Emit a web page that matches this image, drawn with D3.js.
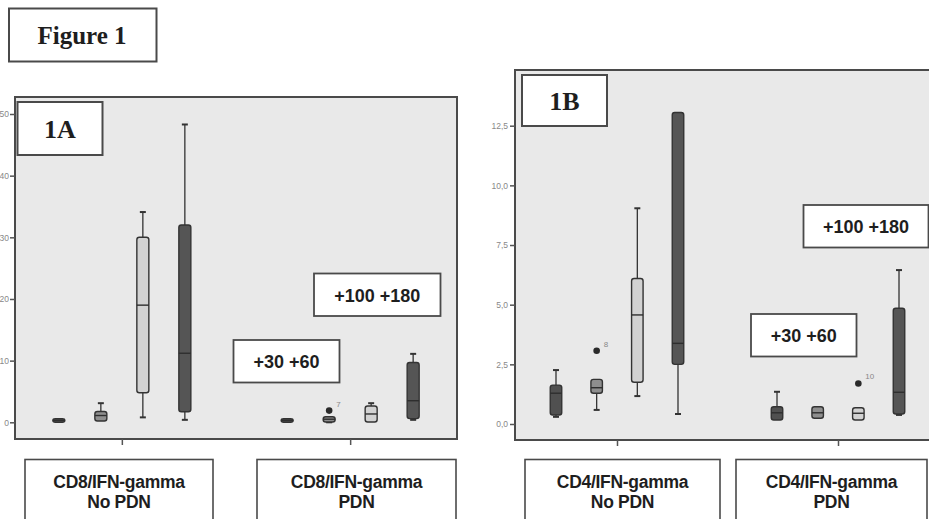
<!DOCTYPE html>
<html>
<head>
<meta charset="utf-8">
<script src="https://cdn.jsdelivr.net/npm/d3@7"></script>
<style>
  html, body { margin: 0; padding: 0; background: #ffffff; }
  svg { display: block; }
</style>
</head>
<body>
<svg id="chart" width="929" height="519"></svg>
<script>
// ---------------- DATA ----------------
const series = ["+30", "+60", "+100", "+180"];

// Panel 1A : CD8/IFN-gamma
const groupsA = ["CD8/IFN-gamma|No PDN", "CD8/IFN-gamma|PDN"];
// [min, q1, median, q3, max] per group, per series
const statsA_NoPDN = [
  [0.1, 0.1, 0.3, 0.5, 0.5],
  [0.2, 0.2, 1.1, 1.75, 3.1],
  [0.8, 4.8, 19.0, 30.0, 34.1],
  [0.4, 1.7, 11.2, 32.0, 48.3]
];
const statsA_PDN = [
  [0.1, 0.15, 0.3, 0.45, 0.5],
  [0.0, 0.05, 0.5, 0.9, 0.9],
  [0.05, 0.05, 1.35, 2.65, 3.1],
  [0.4, 0.6, 3.5, 9.7, 11.1]
];
const outliersA = [{ group: 1, series: 1, value: 1.9, label: "7" }];
const ticksA = [0, 10, 20, 30, 40, 50];
const tickLabelsA = ["0", "10", "20", "30", "40", "50"];

// Panel 1B : CD4/IFN-gamma
const groupsB = ["CD4/IFN-gamma|No PDN", "CD4/IFN-gamma|PDN"];
const statsB_NoPDN = [
  [0.3, 0.38, 1.29, 1.63, 2.26],
  [0.59, 1.29, 1.52, 1.87, 1.87],
  [1.17, 1.75, 4.57, 6.1, 9.04],
  [0.42, 2.5, 3.38, 13.05, 13.05]
];
const statsB_PDN = [
  [0.17, 0.17, 0.47, 0.72, 1.35],
  [0.24, 0.24, 0.47, 0.72, 0.72],
  [0.17, 0.17, 0.45, 0.68, 0.68],
  [0.38, 0.42, 1.33, 4.85, 6.45]
];
const outliersB = [
  { group: 0, series: 1, value: 3.07, label: "8" },
  { group: 1, series: 2, value: 1.7, label: "10" }
];
const ticksB = [0, 2.5, 5, 7.5, 10, 12.5];
const tickLabelsB = ["0,0", "2,5", "5,0", "7,5", "10,0", "12,5"];

const seriesColors = ["#505050", "#8e8e8e", "#d2d2d2", "#555555"];

// ---------------- DRAWING ----------------
const svg = d3.select("#chart");
const frameColor = "#4a4a4a";
const serif = "'Liberation Serif', 'Times New Roman', serif";
const sans = "'Liberation Sans', Arial, sans-serif";

function labelBox(x, y, w, h, lines, opts) {
  const g = svg.append("g");
  g.append("rect").attr("x", x).attr("y", y).attr("width", w).attr("height", h)
    .attr("fill", "#fff").attr("stroke", opts.stroke || frameColor)
    .attr("stroke-width", opts.sw || 2);
  lines.forEach((t, i) => {
    g.append("text").attr("x", opts.cx !== undefined ? opts.cx : x + w / 2)
      .attr("y", opts.baseline + i * (opts.lineH || 0))
      .attr("text-anchor", "middle")
      .attr("font-family", opts.font).attr("font-weight", "bold")
      .attr("font-size", opts.size).attr("fill", opts.fill || "#1e1e1e")
      .attr("letter-spacing", opts.ls || 0)
      .text(t);
  });
}

function panel(cfg) {
  const { left, top, right, bottom, yScale, groups, stats, outliers, ticks, tickLabels,
          groupRange, groupPad, innerHalf, boxW, tickPad } = cfg;
  svg.append("rect").attr("x", left).attr("y", top)
    .attr("width", right - left).attr("height", bottom - top)
    .attr("fill", "#e9e9e9").attr("stroke", frameColor).attr("stroke-width", 2);

  const gx = d3.scalePoint().domain(groups).range(groupRange).padding(groupPad);
  const sx = d3.scalePoint().domain(series).range([-innerHalf, innerHalf]);

  const yAxis = d3.axisLeft(yScale).tickValues(ticks)
    .tickFormat((d, i) => tickLabels[i]).tickSize(5).tickPadding(tickPad);
  const ya = svg.append("g").attr("transform", `translate(${left},0)`).call(yAxis);
  ya.select(".domain").remove();
  ya.selectAll("line").attr("stroke", "#555").attr("stroke-width", 1.5);
  ya.selectAll("text").attr("font-family", sans).attr("font-size", 8.5).attr("fill", "#888");

  const xAxis = d3.axisBottom(gx).tickSize(6).tickFormat("");
  const xa = svg.append("g").attr("transform", `translate(0,${bottom})`).call(xAxis);
  xa.select(".domain").remove();
  xa.selectAll("line").attr("stroke", "#555").attr("stroke-width", 1.5);

  groups.forEach((gName, gi) => {
    stats[gi].forEach((s, si) => {
      const [mn, q1, md, q3, mx] = s;
      const cx = gx(gName) + sx(series[si]);
      const g = svg.append("g");
      const capW = 6;
      if (mx > q3) {
        g.append("line").attr("x1", cx).attr("x2", cx).attr("y1", yScale(q3)).attr("y2", yScale(mx))
          .attr("stroke", "#333").attr("stroke-width", 1.3);
        g.append("line").attr("x1", cx - capW / 2).attr("x2", cx + capW / 2)
          .attr("y1", yScale(mx)).attr("y2", yScale(mx)).attr("stroke", "#333").attr("stroke-width", 2);
      }
      if (mn < q1) {
        g.append("line").attr("x1", cx).attr("x2", cx).attr("y1", yScale(q1)).attr("y2", yScale(mn))
          .attr("stroke", "#333").attr("stroke-width", 1.3);
        g.append("line").attr("x1", cx - capW / 2).attr("x2", cx + capW / 2)
          .attr("y1", yScale(mn)).attr("y2", yScale(mn)).attr("stroke", "#333").attr("stroke-width", 2);
      }
      const yTop = yScale(q3), yBot = yScale(q1);
      const h = Math.max(yBot - yTop, 3.5);
      g.append("rect").attr("x", cx - boxW / 2).attr("y", (yTop + yBot) / 2 - h / 2)
        .attr("width", boxW).attr("height", h).attr("rx", 2.5)
        .attr("fill", seriesColors[si]).attr("stroke", "#333").attr("stroke-width", 1.4);
      g.append("line").attr("x1", cx - boxW / 2).attr("x2", cx + boxW / 2)
        .attr("y1", yScale(md)).attr("y2", yScale(md))
        .attr("stroke", "#2e2e2e").attr("stroke-width", 1.4);
    });
  });

  outliers.forEach(o => {
    const cx = gx(groups[o.group]) + sx(series[o.series]);
    svg.append("circle").attr("cx", cx).attr("cy", yScale(o.value)).attr("r", 3.3).attr("fill", "#2a2a2a");
    svg.append("text").attr("x", cx + 7).attr("y", yScale(o.value) - 4)
      .attr("font-family", sans).attr("font-size", 8).attr("fill", "#888").text(o.label);
  });
  return gx;
}

const yA = d3.scaleLinear().domain([0, 50]).range([422.3, 114]);
panel({
  left: 15, top: 97, right: 457, bottom: 439, yScale: yA,
  groups: groupsA, stats: [statsA_NoPDN, statsA_PDN], outliers: outliersA,
  ticks: ticksA, tickLabels: tickLabelsA,
  groupRange: [15, 457], groupPad: 0.468, innerHalf: 63, boxW: 12, tickPad: 1
});

const yB = d3.scaleLinear().domain([0, 12.5]).range([424, 125.7]);
panel({
  left: 515, top: 70, right: 945, bottom: 440, yScale: yB,
  groups: groupsB, stats: [statsB_NoPDN, statsB_PDN], outliers: outliersB,
  ticks: ticksB, tickLabels: tickLabelsB,
  groupRange: [515, 940], groupPad: 0.4615, innerHalf: 61, boxW: 11.5, tickPad: 2
});

labelBox(9, 8.5, 147.5, 53, ["Figure 1"], { font: serif, size: 25, baseline: 44, cx: 82 });
labelBox(17.5, 102, 85, 53, ["1A"], { font: serif, size: 26, baseline: 138 });
labelBox(522, 75, 85, 51, ["1B"], { font: serif, size: 26, baseline: 110 });

const pairLabels = [series[0] + " " + series[1], series[2] + " " + series[3]];
labelBox(314, 273.5, 126.5, 42.5, [pairLabels[1]], { font: sans, size: 18, baseline: 301.5, sw: 1.8 });
labelBox(233.5, 340, 106, 42.5, [pairLabels[0]], { font: sans, size: 18, baseline: 368, sw: 1.8 });
labelBox(803.5, 205, 125, 42.5, [pairLabels[1]], { font: sans, size: 18, baseline: 233, sw: 1.8 });
labelBox(751, 314, 105.5, 42.5, [pairLabels[0]], { font: sans, size: 18, baseline: 342, sw: 1.8 });

const groupBoxes = [
  { name: groupsA[0], x: 25, w: 188 },
  { name: groupsA[1], x: 257, w: 199 },
  { name: groupsB[0], x: 525, w: 195 },
  { name: groupsB[1], x: 736, w: 191 }
];
groupBoxes.forEach(b => {
  labelBox(b.x, 459.5, b.w, 80, b.name.split("|"),
    { font: sans, size: 17.5, baseline: 487.5, lineH: 20.8, sw: 1.6, ls: -0.3 });
});
</script>
</body>
</html>
